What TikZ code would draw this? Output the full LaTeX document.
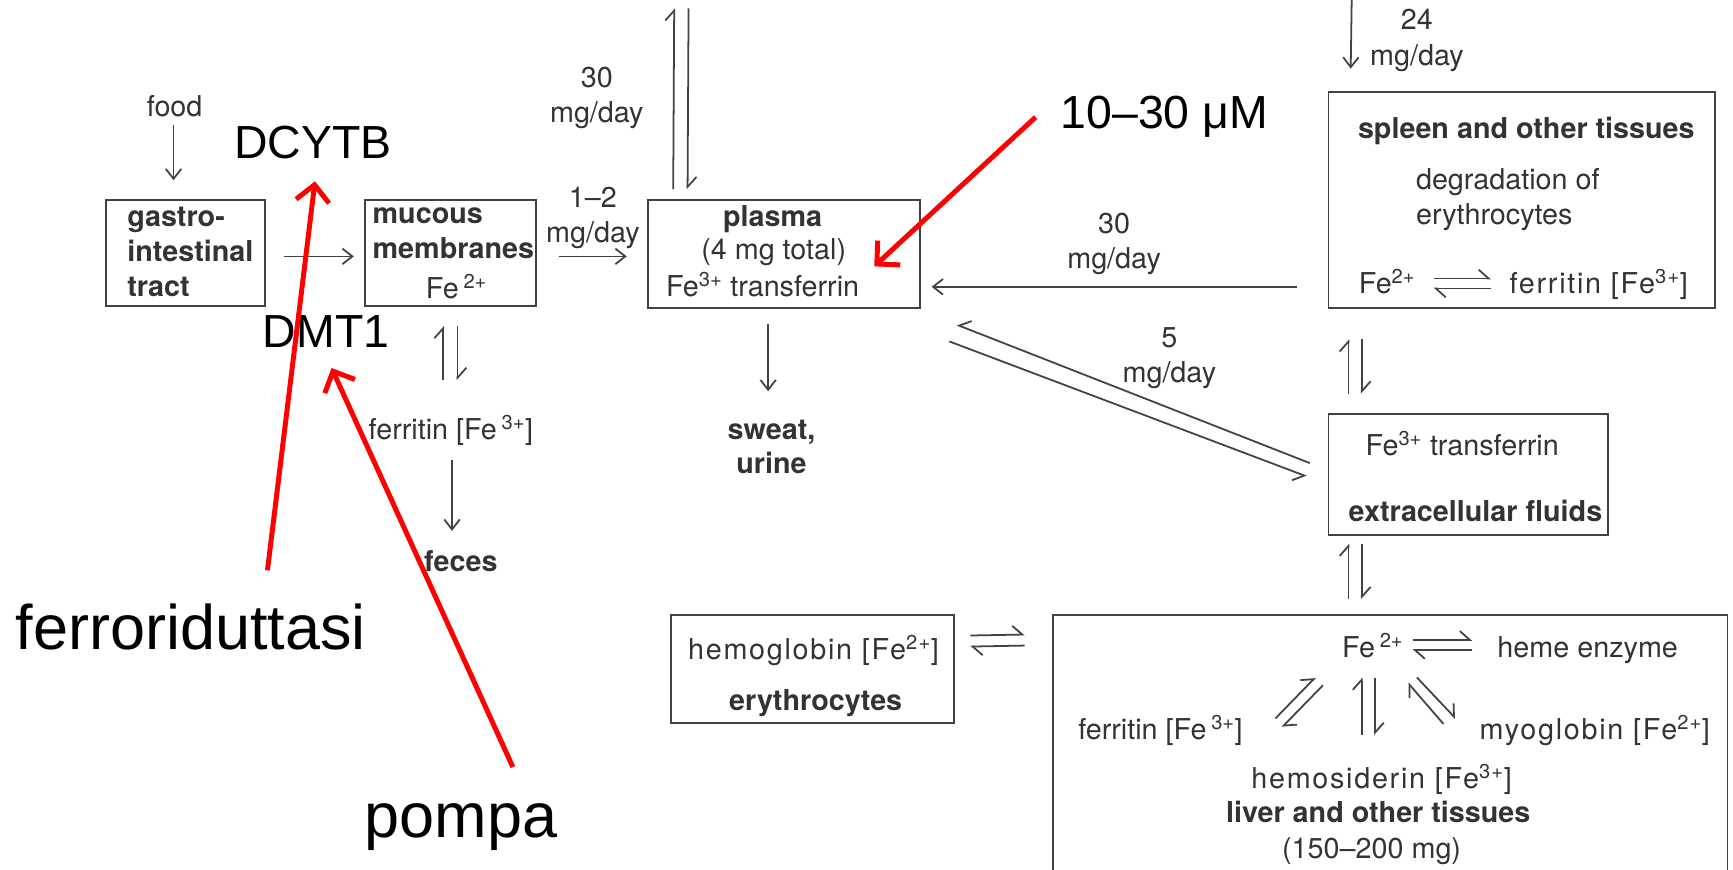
\documentclass[tikz,border=0pt]{standalone}
\usepackage{fontspec}
\setmainfont{TeX Gyre Heros}
\newfontfamily\notefont{Liberation Sans}
\usepackage{xcolor}
\usepackage{tikz}
\usetikzlibrary{arrows.meta, calc}

\definecolor{scantext}{HTML}{333333}
\definecolor{scanline}{HTML}{424242}
\definecolor{markred}{HTML}{FF0000}

\begin{document}
\begin{tikzpicture}[
    x=1pt, y=-1pt,
    box/.style={draw=scanline, line width=1.8pt, rectangle, inner sep=0pt},
    txt/.style={text=scantext, inner sep=0pt, text height=18pt, text depth=0pt,
      font=\fontsize{26}{31}\selectfont},
    btxt/.style={txt, font=\fontsize{26}{31}\selectfont\bfseries},
    wtxt/.style={txt, font=\fontsize{26}{31}\selectfont\addfontfeature{LetterSpace=6}},
    multi/.style={text=scantext, inner sep=0pt, align=center,
      font=\fontsize{26}{32}\selectfont},
    note/.style={text=black, inner sep=0pt, text height=29.5pt, text depth=0pt,
      font=\notefont\fontsize{42}{50}\selectfont},
    bignote/.style={note, text height=40pt, font=\notefont\fontsize{57}{68}\selectfont},
    arrow/.style={draw=scanline, line width=1.6pt, -{Straight Barb[length=9pt,width=14pt]}},
    harp/.style={draw=scanline, line width=1.6pt, -{Straight Barb[left,length=9pt,width=16pt]}},
    rharp/.style={draw=scanline, line width=1.6pt, -{Straight Barb[right,length=9pt,width=16pt]}},
    redarrow/.style={draw=markred, line width=4.5pt, -{Straight Barb[length=15pt,width=30pt]}}
]
\useasboundingbox (0,0) rectangle (1568,787);

% Compartments
\node[box, minimum width=144pt, minimum height=96pt] (gastro) at (168,229) {};
\node[box, minimum width=155pt, minimum height=96pt] (mucous) at (407.5,229) {};
\node[box, minimum width=246pt, minimum height=98pt] (plasma) at (709,230) {};
\node[box, minimum width=350pt, minimum height=196pt] (spleen) at (1377,181) {};
\node[box, minimum width=253pt, minimum height=109pt] (extra) at (1328.5,429.5) {};
\node[box, minimum width=256pt, minimum height=98pt] (erythro) at (735,605) {};
\node[box, minimum width=610pt, minimum height=250pt] (liver) at (1258,681) {};

% Texts in the compartments
\node[multi, align=left, anchor=north west, font=\fontsize{26}{31.7}\selectfont\bfseries] (gastrotxt) at (115,187.5) {gastro-\\intestinal\\tract};
\node[multi, align=left, anchor=north west, font=\fontsize{26}{31.7}\selectfont\bfseries] (mucoustxt) at (337,188) {mucous\\membranes};
\node[txt] (mfe) at (413,261) {Fe\,\textsuperscript{2+}};
\node[btxt] (plasmatxt) at (699,196) {plasma};
\node[txt] (ptotal) at (700,226) {(4 mg total)};
\node[txt] (pfe) at (690,259.5) {Fe\textsuperscript{3+} transferrin};
\node[btxt] (spleentxt) at (1381,116) {spleen and other tissues};
\node[multi, align=left, anchor=north west] (degrad) at (1281,152) {degradation of\\erythrocytes};
\node[txt] (sfe) at (1255,256.5) {Fe\textsuperscript{2+}};
\node[wtxt] (sferr) at (1446.5,256.5) {ferritin [Fe\textsuperscript{3+}]};
\node[txt] (efe) at (1323,403) {Fe\textsuperscript{3+} transferrin};
\node[btxt] (extratxt) at (1335,463) {extracellular fluids};
\node[wtxt] (hemog) at (736,588) {hemoglobin [Fe\textsuperscript{2+}]};
\node[btxt] (erytxt) at (738,633.5) {erythrocytes};
\node[txt] (lfe) at (1242,586) {Fe\,\textsuperscript{2+}};
\node[txt] (lheme) at (1436.5,586) {heme enzyme};
\node[txt] (lferr) at (1050,660) {ferritin [Fe\,\textsuperscript{3+}]};
\node[wtxt] (lmyo) at (1443,660) {myoglobin [Fe\textsuperscript{2+}]};
\node[wtxt] (lhemo) at (1250,704) {hemosiderin [Fe\textsuperscript{3+}]};
\node[btxt] (livertxt) at (1247,735) {liver and other tissues};
\node[txt] (livermg) at (1241,767.5) {(150–200 mg)};

% Sources and sinks
\node[txt] (food) at (158,96.5) {food};
\node[txt] (mferr) at (408,389) {ferritin [Fe\,\textsuperscript{3+}]};
\node[btxt] (feces) at (417,508.5) {feces};
\node[multi, anchor=north, font=\fontsize{26}{31}\selectfont\bfseries] (sweat) at (698,380) {sweat,\\urine};
\coordinate (plasmain) at (616.5,7.5);
\coordinate (spleenin) at (1223,0);

% Rates
\node[multi, anchor=north] (rate30a) at (540,60.5) {30\\mg/day};
\node[multi, anchor=north] (rate24) at (1282,8.5) {24\\mg/day};
\node[multi, anchor=north] (rate5) at (1058,296) {5\\mg/day};

% Annotations
\node[note] (dcytb) at (283,128.3) {DCYTB};
\node[note] (dmt1) at (295,299.3) {DMT1};
\node[note] (conc) at (1053.5,101.3) {10–30 μM};
\node[bignote] (ferro) at (172.6,568) {ferroriduttasi};
\node[bignote] (pompa) at (417,738) {pompa};

% Flow arrows
\draw[arrow] ([xshift=-1pt,yshift=-7pt]food.south) -- ([xshift=-11pt,yshift=17pt]gastro.north);
\draw[arrow] ([xshift=16pt,yshift=-3pt]gastro.east) -- ([xshift=-9pt,yshift=-3pt]mucous.west);
\draw[arrow] ([xshift=20pt,yshift=-3pt]mucous.east) -- node[multi, above=6pt] (rate12) {1–2\\mg/day} ([xshift=-18pt,yshift=-2pt]plasma.west);
\draw[arrow] ([xshift=-28pt,yshift=-78.5pt]spleen.west) -- node[multi, above=10pt] (rate30b) {30\\mg/day} ([xshift=10pt,yshift=-29.5pt]plasma.east);
\draw[arrow] (spleenin) -- ([xshift=21pt,yshift=20pt]spleen.north west);
\draw[arrow] ([xshift=-14pt,yshift=-13pt]plasma.south) -- ([xshift=-3pt,yshift=26pt]sweat.north);
\draw[arrow] ([xshift=1pt,yshift=-18pt]mferr.south) -- ([xshift=-8pt,yshift=19pt]feces.north);

% Equilibria
\draw[harp] ([xshift=24pt,yshift=9pt]plasma.north west) -- ([xshift=-6.5pt]plasmain);
\draw[harp] ([xshift=6.5pt]plasmain) -- ([xshift=37pt,yshift=9pt]plasma.north west);
\draw[harp] ([xshift=-7pt,yshift=36pt]mferr.north) -- ([xshift=-6.5pt,yshift=-17pt]mucous.south);
\draw[harp] ([xshift=6.5pt,yshift=-17pt]mucous.south) -- ([xshift=6pt,yshift=36pt]mferr.north);
\draw[harp] ([xshift=19pt,yshift=18pt]extra.north west) -- ([xshift=19pt,yshift=-27pt]spleen.south west);
\draw[harp] ([xshift=31pt,yshift=-27pt]spleen.south west) -- ([xshift=31pt,yshift=18pt]extra.north west);
\draw[harp] ([xshift=268pt,yshift=13pt]liver.north west) -- ([xshift=19pt,yshift=-7pt]extra.south west);
\draw[harp] ([xshift=31pt,yshift=-7pt]extra.south west) -- ([xshift=280pt,yshift=13pt]liver.north west);
\draw[rharp] ([xshift=-16pt,yshift=10.5pt]extra.west) -- ([xshift=33pt,yshift=-14pt]plasma.south east);
\draw[rharp] ([xshift=26pt,yshift=-29pt]plasma.south east) -- ([xshift=-19pt,yshift=-1.5pt]extra.west);
\draw[harp] ([xshift=14pt,yshift=30pt]erythro.east) -- ([xshift=-25pt,yshift=-19pt]liver.north west);
\draw[harp] ([xshift=-25pt,yshift=-29pt]liver.north west) -- ([xshift=14pt,yshift=20pt]erythro.east);
\draw[harp] ([xshift=42pt,yshift=4.5pt]sfe.center) -- ([xshift=-97.5pt,yshift=4.5pt]sferr.center);
\draw[harp] ([xshift=-97.5pt,yshift=-4.5pt]sferr.center) -- ([xshift=42pt,yshift=-4.5pt]sfe.center);
\draw[harp] ([xshift=36pt,yshift=7pt]lfe.center) -- ([xshift=-104.5pt,yshift=7pt]lheme.center);
\draw[harp] ([xshift=-104.5pt,yshift=-2pt]lheme.center) -- ([xshift=36pt,yshift=-2pt]lfe.center);
\draw[harp] ([xshift=104pt,yshift=10pt]lferr.center) -- ([xshift=-52pt,yshift=-27pt]lfe.center);
\draw[harp] ([xshift=-45pt,yshift=-34pt]lfe.center) -- ([xshift=110pt,yshift=2pt]lferr.center);
\draw[harp] ([xshift=-18pt,yshift=39pt]lhemo.center) -- ([xshift=-10pt,yshift=-27pt]lfe.center);
\draw[harp] ([xshift=2pt,yshift=-27pt]lfe.center) -- ([xshift=-6pt,yshift=39pt]lhemo.center);
\draw[harp] ([xshift=-137pt,yshift=5pt]lmyo.center) -- ([xshift=32pt,yshift=-32pt]lfe.center);
\draw[harp] ([xshift=40pt,yshift=-27pt]lfe.center) -- ([xshift=-126pt,yshift=10pt]lmyo.center);

% Red pointers
\draw[redarrow] ([xshift=69.4pt,yshift=52pt]ferro.center) -- ([xshift=2pt,yshift=-35.7pt]dcytb.center);
\draw[redarrow] ([xshift=47pt,yshift=44pt]pompa.center) -- ([xshift=5pt,yshift=-33.7pt]dmt1.center);
\draw[redarrow] ([xshift=-116.5pt,yshift=-4.7pt]conc.center) -- ([xshift=82pt,yshift=-11pt]plasma.center);

\end{tikzpicture}
\end{document}
